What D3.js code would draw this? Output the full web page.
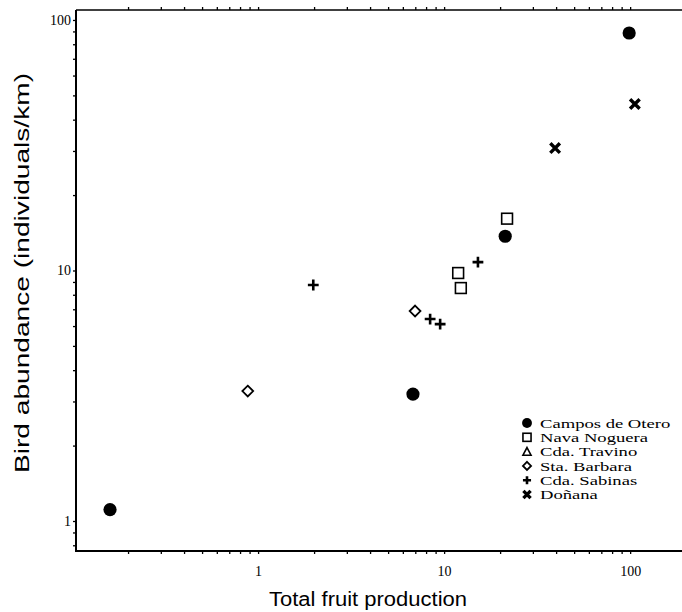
<!DOCTYPE html>
<html><head><meta charset="utf-8">
<script src="https://cdn.jsdelivr.net/npm/d3@7"></script>
<style>
html,body{margin:0;padding:0;background:#fff;}
svg{display:block;}
</style></head>
<body>
<svg id="chart" width="682" height="612"></svg>
<script>
// ---- data ----
const seriesNames = ["Campos de Otero","Nava Noguera","Cda. Travino","Sta. Barbara","Cda. Sabinas","Doñana"];
const camposX = [0.16, 6.8, 21.3, 98.8];
const camposY = [1.11, 3.21, 13.7, 88.7];
const navaX = [21.8, 11.9, 12.3];
const navaY = [16.1, 9.77, 8.51];
const travinoX = [];
const travinoY = [];
const barbaraX = [0.88, 6.98];
const barbaraY = [3.30, 6.89];
const sabinasX = [1.98, 8.41, 9.52, 15.2];
const sabinasY = [8.75, 6.40, 6.11, 10.8];
const donanaX = [39.5, 106];
const donanaY = [30.8, 46.2];
const xTickLabels = [1, 10, 100];
const yTickLabels = [1, 10, 100];
const xTitle = "Total fruit production";
const yTitle = "Bird abundance (individuals/km)";

const series = [
  {name: seriesNames[0], xs: camposX, ys: camposY, sym: "circle"},
  {name: seriesNames[1], xs: navaX, ys: navaY, sym: "square"},
  {name: seriesNames[2], xs: travinoX, ys: travinoY, sym: "triangle"},
  {name: seriesNames[3], xs: barbaraX, ys: barbaraY, sym: "diamond"},
  {name: seriesNames[4], xs: sabinasX, ys: sabinasY, sym: "plus"},
  {name: seriesNames[5], xs: donanaX, ys: donanaY, sym: "cross"}
];

const svg = d3.select("#chart");
const L = 76, R = 682, T = 10, B = 551;
const x = d3.scaleLog().domain([0.105, 190]).range([L, R]);
const y = d3.scaleLog().domain([0.759, 109.6]).range([B, T]);

function minorTicks(dom){
  const out = [];
  for (let e = -2; e <= 3; e++) for (let m = 1; m <= 9; m++) {
    const v = m * Math.pow(10, e);
    if (v > dom[0]*1.02 && v < dom[1]) out.push(+v.toPrecision(3));
  }
  return out;
}
const xt = minorTicks(x.domain()).filter(v => v <= 100.5);
const yt = minorTicks(y.domain());
const fmtX = v => xTickLabels.includes(v) ? String(v) : "";
const fmtY = v => yTickLabels.includes(v) ? String(v) : "";

const serif = "'Liberation Serif','Times New Roman',serif";
const sans = "'Liberation Sans',Arial,Helvetica,sans-serif";

// axes
const gTop = svg.append("g").attr("transform", `translate(0,${T})`)
  .call(d3.axisTop(x).tickValues(xt).tickSize(3).tickFormat(""));
const gBot = svg.append("g").attr("transform", `translate(0,${B})`)
  .call(d3.axisBottom(x).tickValues(xt).tickSize(3).tickFormat(fmtX).tickPadding(12));
const gLeft = svg.append("g").attr("transform", `translate(${L},0)`)
  .call(d3.axisLeft(y).tickValues(yt).tickSize(3).tickFormat(fmtY).tickPadding(2));
[gTop, gBot, gLeft].forEach(g => {
  g.select(".domain").remove();
  g.selectAll(".tick line").attr("stroke", "#000").attr("stroke-width", 1.3);
  g.selectAll(".tick text").attr("font-family", serif).attr("font-size", 14).attr("fill", "#000");
});
gBot.selectAll(".tick text").attr("dy", "0.71em");

// frame
svg.append("line").attr("x1", L).attr("x2", R).attr("y1", T).attr("y2", T).attr("stroke", "#000").attr("stroke-width", 1.5);
svg.append("line").attr("x1", L).attr("x2", R).attr("y1", B).attr("y2", B).attr("stroke", "#000").attr("stroke-width", 2);
svg.append("line").attr("x1", L).attr("x2", L).attr("y1", T).attr("y2", B + 1).attr("stroke", "#000").attr("stroke-width", 2);

// symbols
function drawSym(g, sym, cx, cy, s) {
  if (sym === "circle") g.append("circle").attr("cx", cx).attr("cy", cy).attr("r", s*0.55).attr("fill", "#000");
  else if (sym === "square") g.append("rect").attr("x", cx - s*0.45).attr("y", cy - s*0.45).attr("width", s*0.9).attr("height", s*0.9)
      .attr("fill", "none").attr("stroke", "#000").attr("stroke-width", 1.6);
  else if (sym === "triangle") g.append("path").attr("d", `M${cx},${cy - s*0.45}L${cx + s*0.45},${cy + s*0.4}L${cx - s*0.45},${cy + s*0.4}Z`)
      .attr("fill", "none").attr("stroke", "#000").attr("stroke-width", 1.6);
  else if (sym === "diamond") g.append("path").attr("d", `M${cx},${cy - s*0.45}L${cx + s*0.45},${cy}L${cx},${cy + s*0.45}L${cx - s*0.45},${cy}Z`)
      .attr("fill", "none").attr("stroke", "#000").attr("stroke-width", 1.8);
  else if (sym === "plus") g.append("path").attr("d", `M${cx - s*0.45},${cy}H${cx + s*0.45}M${cx},${cy - s*0.45}V${cy + s*0.45}`)
      .attr("stroke", "#000").attr("stroke-width", 2.6);
  else if (sym === "cross") g.append("path").attr("d", `M${cx - s*0.4},${cy - s*0.4}L${cx + s*0.4},${cy + s*0.4}M${cx + s*0.4},${cy - s*0.4}L${cx - s*0.4},${cy + s*0.4}`)
      .attr("stroke", "#000").attr("stroke-width", 3.4);
}
const gPts = svg.append("g");
series.forEach(sr => sr.xs.forEach((xv, i) => drawSym(gPts, sr.sym, x(xv), y(sr.ys[i]), 12)));

// legend
const gLeg = svg.append("g");
series.forEach((sr, i) => {
  const cy = 423 + i * 14.3;
  drawSym(gLeg, sr.sym, 527, cy, 9);
  gLeg.append("text").attr("transform", `translate(540,${cy}) scale(1.38,1)`).attr("dy", "0.35em")
    .attr("font-family", serif).attr("font-size", 13.5).text(sr.name);
});

// titles
svg.append("text").attr("x", 368).attr("y", 606).attr("text-anchor", "middle")
  .attr("font-family", sans).attr("font-size", 20).attr("textLength", 198).attr("lengthAdjust", "spacingAndGlyphs").text(xTitle);
svg.append("text").attr("transform", `translate(29,273) rotate(-90)`).attr("text-anchor", "middle")
  .attr("font-family", sans).attr("font-size", 20).attr("textLength", 400).attr("lengthAdjust", "spacingAndGlyphs").text(yTitle);
</script>
</body></html>
